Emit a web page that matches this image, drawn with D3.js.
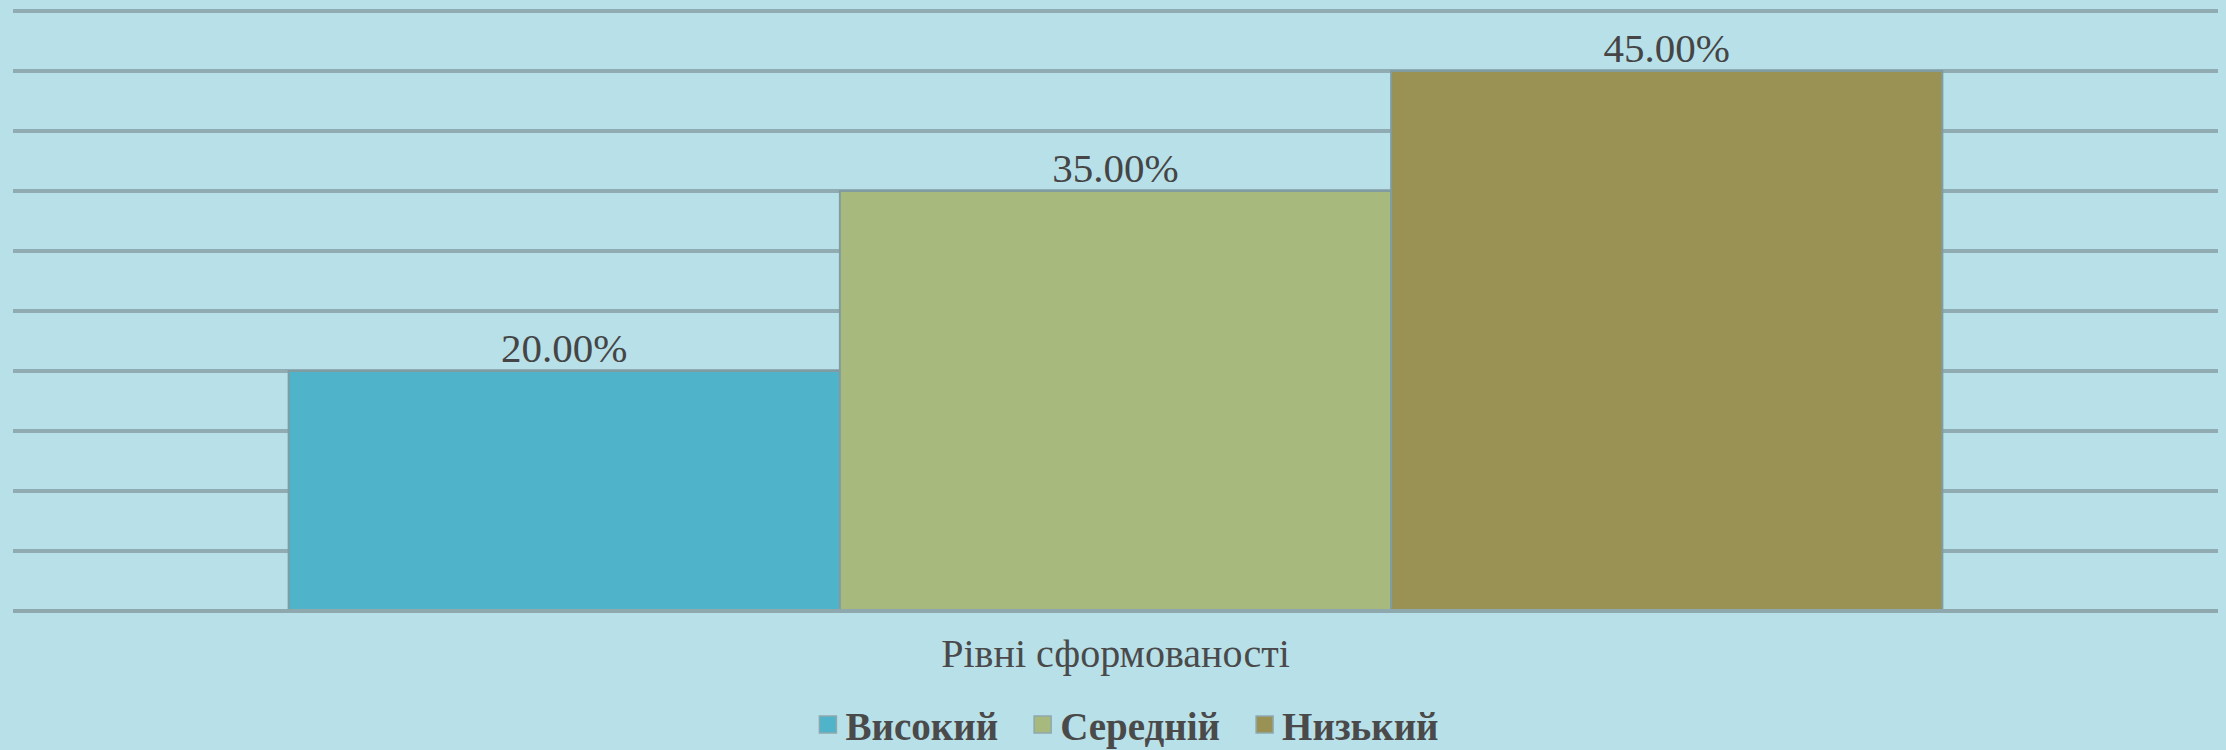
<!DOCTYPE html>
<html>
<head>
<meta charset="utf-8">
<script src="https://cdn.jsdelivr.net/npm/d3@7"></script>
<style>
  html, body { margin: 0; padding: 0; background: #b8e0e8; }
  svg { display: block; }
</style>
</head>
<body>
<svg id="chart" width="2226" height="750"></svg>
<script>
// =============================
// Data
// =============================
const categories = ["Високий", "Середній", "Низький"];
const values = [0.20, 0.35, 0.45];
const colors = ["#4fb3c9", "#a8b97d", "#9a9155"];
const yTicks = [0, 0.05, 0.10, 0.15, 0.20, 0.25, 0.30, 0.35, 0.40, 0.45, 0.50];
const axisTitle = "Рівні сформованості";

// =============================
// Layout
// =============================
const width = 2226;
const height = 750;
const margin = { top: 11, right: 8, bottom: 139, left: 13 };

const svg = d3.select("#chart");

svg.append("rect")
    .attr("width", width)
    .attr("height", height)
    .attr("fill", "#b8e0e8");

const x = d3.scaleBand()
    .domain(categories)
    .range([margin.left, width - margin.right])
    .paddingInner(0)
    .paddingOuter(0.5);

const y = d3.scaleLinear()
    .domain([0, 0.5])
    .range([height - margin.bottom, margin.top]);

// Gridlines
svg.append("g")
    .selectAll("line")
    .data(yTicks)
    .enter()
    .append("line")
    .attr("x1", margin.left)
    .attr("x2", width - margin.right)
    .attr("y1", d => y(d))
    .attr("y2", d => y(d))
    .attr("stroke", "#90abb1")
    .attr("stroke-width", 4);

// Bars
svg.append("g")
    .selectAll("rect")
    .data(values)
    .enter()
    .append("rect")
    .attr("x", (d, i) => x(categories[i]))
    .attr("y", d => y(d))
    .attr("width", x.bandwidth())
    .attr("height", d => y(0) - y(d))
    .attr("fill", (d, i) => colors[i])
    .attr("stroke", "#7f9ca2")
    .attr("stroke-width", 2);

// Axis baseline on top of bars
svg.append("line")
    .attr("x1", margin.left)
    .attr("x2", width - margin.right)
    .attr("y1", y(0))
    .attr("y2", y(0))
    .attr("stroke", "#8ea8ae")
    .attr("stroke-width", 4);

// Data labels
const fmt = d3.format(".2%");
svg.append("g")
    .selectAll("text")
    .data(values)
    .enter()
    .append("text")
    .attr("x", (d, i) => x(categories[i]) + x.bandwidth() / 2)
    .attr("y", d => y(d) - 9)
    .attr("text-anchor", "middle")
    .attr("font-family", "'Liberation Serif', serif")
    .attr("font-size", "41px")
    .attr("fill", "#454545")
    .text(d => fmt(d));

// Axis title
svg.append("text")
    .attr("x", (margin.left + width - margin.right) / 2)
    .attr("y", 667)
    .attr("text-anchor", "middle")
    .attr("font-family", "'Liberation Serif', serif")
    .attr("font-size", "40px")
    .attr("fill", "#4a4a4a")
    .text(axisTitle);

// Legend
const legend = svg.append("g");
const items = legend.selectAll("g")
    .data(categories)
    .enter()
    .append("g");

items.append("rect")
    .attr("width", 17)
    .attr("height", 17)
    .attr("y", -24)
    .attr("fill", (d, i) => colors[i])
    .attr("stroke", "#8ea8ae")
    .attr("stroke-width", 1.5);

items.append("text")
    .attr("x", 26)
    .attr("font-family", "'Liberation Serif', serif")
    .attr("font-weight", "bold")
    .attr("font-size", "39px")
    .attr("fill", "#4a4a4a")
    .text(d => d);

// lay out legend entries side by side and center them
let offset = 0;
items.each(function () {
    const w = this.getBBox().width;
    d3.select(this).attr("transform", `translate(${offset},740)`);
    offset += w + 36;
});
const total = offset - 36;
legend.attr("transform", `translate(${(width - total) / 2 + 16},0)`);
</script>
</body>
</html>
